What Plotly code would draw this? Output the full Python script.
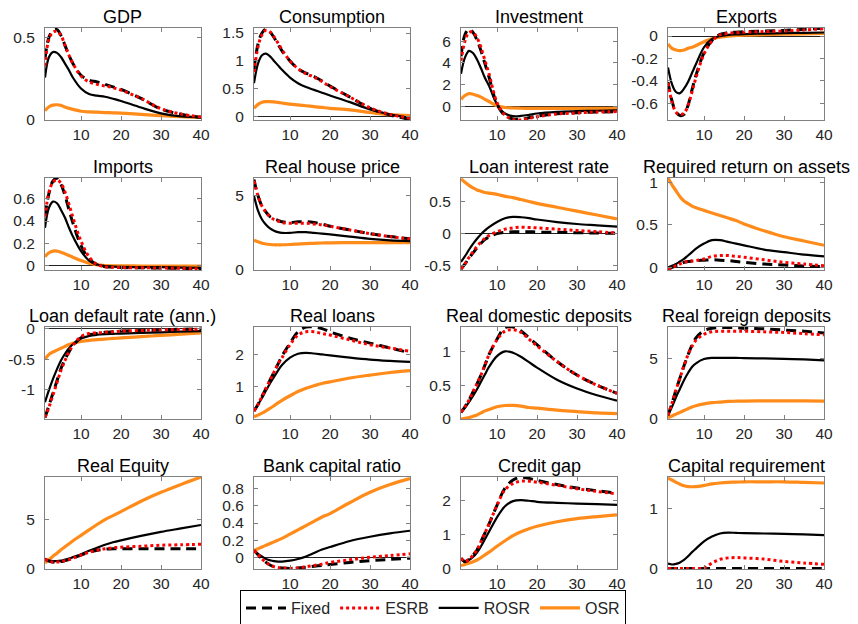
import plotly.graph_objects as go

# ---------------- data ----------------
periods = [1, 2, 3, 4, 5, 6, 7, 8, 10, 12, 14, 16, 18, 20, 25, 30, 35, 40]
series_names = ["Fixed", "ESRB", "ROSR", "OSR"]
titles = ["GDP", "Consumption", "Investment", "Exports",
          "Imports", "Real house price", "Loan interest rate", "Required return on assets",
          "Loan default rate (ann.)", "Real loans", "Real domestic deposits", "Real foreign deposits",
          "Real Equity", "Bank capital ratio", "Credit gap", "Capital requirement"]

gdp_fixed = [0.37, 0.5, 0.54, 0.545, 0.51, 0.45, 0.39, 0.34, 0.27, 0.24, 0.23, 0.215, 0.2, 0.185, 0.13, 0.066, 0.035, 0.016]
gdp_esrb = [0.326, 0.49, 0.53, 0.535, 0.51, 0.45, 0.39, 0.34, 0.265, 0.23, 0.215, 0.205, 0.195, 0.18, 0.13, 0.068, 0.036, 0.018]
gdp_rosr = [0.256, 0.38, 0.41, 0.405, 0.38, 0.34, 0.3, 0.255, 0.19, 0.157, 0.147, 0.14, 0.128, 0.115, 0.075, 0.04, 0.022, 0.016]
gdp_osr = [0.056, 0.08, 0.09, 0.092, 0.088, 0.078, 0.07, 0.064, 0.053, 0.049, 0.047, 0.045, 0.043, 0.041, 0.034, 0.026, 0.02, 0.016]

cons_fixed = [0.85, 1.3, 1.5, 1.57, 1.52, 1.42, 1.3, 1.18, 1.0, 0.86, 0.78, 0.72, 0.64, 0.55, 0.35, 0.15, 0.03, -0.05]
cons_esrb = [0.8, 1.25, 1.47, 1.55, 1.52, 1.43, 1.32, 1.2, 1.0, 0.86, 0.77, 0.71, 0.63, 0.54, 0.35, 0.16, 0.04, -0.03]
cons_rosr = [0.6, 0.95, 1.1, 1.13, 1.08, 1.0, 0.92, 0.84, 0.7, 0.6, 0.53, 0.48, 0.43, 0.38, 0.26, 0.13, 0.04, -0.02]
cons_osr = [0.15, 0.22, 0.26, 0.27, 0.27, 0.265, 0.255, 0.245, 0.225, 0.21, 0.195, 0.18, 0.165, 0.15, 0.12, 0.075, 0.035, 0.02]

inv_fixed = [4.6, 6.6, 7.1, 6.8, 6.1, 5.1, 3.9, 2.7, 0.2, -0.85, -1.15, -1.2, -1.05, -0.9, -0.68, -0.58, -0.52, -0.48]
inv_esrb = [4.2, 6.0, 6.8, 6.8, 6.3, 5.4, 4.2, 3.0, 0.35, -0.8, -1.2, -1.25, -1.1, -0.95, -0.7, -0.6, -0.52, -0.48]
inv_rosr = [3.0, 4.5, 5.1, 4.9, 4.3, 3.5, 2.6, 1.9, 0.2, -0.65, -0.9, -0.88, -0.78, -0.65, -0.5, -0.44, -0.4, -0.37]
inv_osr = [0.65, 1.0, 1.17, 1.12, 1.0, 0.85, 0.65, 0.45, 0.05, -0.1, -0.15, -0.17, -0.18, -0.18, -0.18, -0.18, -0.18, -0.18]

exp_fixed = [-0.41, -0.58, -0.68, -0.71, -0.7, -0.62, -0.48, -0.35, -0.15, -0.04, 0.015, 0.03, 0.035, 0.04, 0.045, 0.05, 0.06, 0.07]
exp_esrb = [-0.42, -0.59, -0.68, -0.7, -0.69, -0.62, -0.5, -0.37, -0.16, -0.045, 0.01, 0.025, 0.03, 0.035, 0.04, 0.045, 0.055, 0.065]
exp_rosr = [-0.28, -0.43, -0.5, -0.51, -0.47, -0.41, -0.33, -0.25, -0.1, -0.025, 0.0, 0.01, 0.015, 0.018, 0.022, 0.026, 0.029, 0.032]
exp_osr = [-0.07, -0.11, -0.125, -0.13, -0.125, -0.11, -0.1, -0.085, -0.05, -0.025, -0.01, 0.0, 0.005, 0.008, 0.012, 0.016, 0.02, 0.024]

imp_fixed = [0.45, 0.65, 0.76, 0.785, 0.73, 0.63, 0.5, 0.38, 0.18, 0.06, 0.008, -0.01, -0.015, -0.018, -0.02, -0.022, -0.025, -0.03]
imp_esrb = [0.44, 0.66, 0.75, 0.77, 0.74, 0.66, 0.55, 0.43, 0.22, 0.08, 0.01, -0.01, -0.015, -0.018, -0.02, -0.022, -0.025, -0.03]
imp_rosr = [0.34, 0.52, 0.575, 0.56, 0.5, 0.43, 0.34, 0.26, 0.13, 0.045, 0.01, -0.005, -0.01, -0.012, -0.015, -0.015, -0.018, -0.02]
imp_osr = [0.08, 0.115, 0.13, 0.13, 0.12, 0.105, 0.09, 0.075, 0.045, 0.02, 0.006, 0.0, -0.002, -0.003, -0.004, -0.005, -0.005, -0.005]

house_fixed = [6.1, 5.0, 4.3, 3.9, 3.6, 3.45, 3.35, 3.25, 3.2, 3.25, 3.25, 3.2, 3.1, 2.95, 2.7, 2.45, 2.25, 2.1]
house_esrb = [6.0, 5.0, 4.3, 3.9, 3.6, 3.4, 3.3, 3.2, 3.15, 3.15, 3.15, 3.1, 3.05, 2.95, 2.7, 2.45, 2.25, 2.1]
house_rosr = [5.0, 4.0, 3.4, 3.05, 2.8, 2.65, 2.55, 2.5, 2.5, 2.55, 2.55, 2.5, 2.45, 2.4, 2.25, 2.1, 2.0, 1.95]
house_osr = [2.0, 1.9, 1.8, 1.75, 1.72, 1.7, 1.7, 1.7, 1.72, 1.75, 1.78, 1.8, 1.82, 1.83, 1.85, 1.85, 1.85, 1.85]

lrate_fixed = [-0.55, -0.47, -0.38, -0.3, -0.22, -0.15, -0.09, -0.05, 0.0, 0.02, 0.03, 0.03, 0.03, 0.025, 0.02, 0.015, 0.01, 0.005]
lrate_esrb = [-0.55, -0.47, -0.37, -0.28, -0.2, -0.13, -0.07, -0.03, 0.03, 0.07, 0.09, 0.1, 0.095, 0.09, 0.07, 0.05, 0.03, 0.01]
lrate_rosr = [-0.44, -0.35, -0.25, -0.16, -0.08, -0.01, 0.05, 0.1, 0.18, 0.24, 0.26, 0.255, 0.24, 0.22, 0.18, 0.15, 0.13, 0.11]
lrate_osr = [0.85, 0.8, 0.75, 0.71, 0.68, 0.66, 0.64, 0.63, 0.61, 0.58, 0.56, 0.53, 0.5, 0.47, 0.41, 0.35, 0.29, 0.23]

rroa_fixed = [-0.02, 0.0, 0.02, 0.04, 0.06, 0.07, 0.075, 0.08, 0.085, 0.09, 0.085, 0.08, 0.07, 0.06, 0.04, 0.03, 0.015, 0.01]
rroa_esrb = [-0.02, 0.0, 0.02, 0.04, 0.06, 0.07, 0.075, 0.08, 0.1, 0.13, 0.14, 0.14, 0.13, 0.12, 0.09, 0.06, 0.04, 0.02]
rroa_rosr = [0.0, 0.02, 0.04, 0.07, 0.1, 0.14, 0.18, 0.22, 0.28, 0.32, 0.32, 0.3, 0.28, 0.26, 0.21, 0.18, 0.15, 0.13]
rroa_osr = [1.05, 0.97, 0.9, 0.83, 0.78, 0.75, 0.72, 0.7, 0.67, 0.64, 0.61, 0.58, 0.55, 0.51, 0.43, 0.36, 0.31, 0.26]

ldef_fixed = [-1.45, -1.25, -1.05, -0.85, -0.65, -0.5, -0.38, -0.28, -0.15, -0.1, -0.08, -0.06, -0.05, -0.04, -0.03, -0.02, -0.01, -0.005]
ldef_esrb = [-1.45, -1.28, -1.08, -0.88, -0.68, -0.52, -0.38, -0.27, -0.13, -0.08, -0.07, -0.06, -0.05, -0.04, -0.03, -0.02, -0.015, -0.01]
ldef_rosr = [-1.2, -1.0, -0.82, -0.66, -0.52, -0.41, -0.32, -0.25, -0.16, -0.12, -0.1, -0.09, -0.085, -0.08, -0.07, -0.06, -0.05, -0.04]
ldef_osr = [-0.5, -0.42, -0.38, -0.35, -0.32, -0.29, -0.26, -0.24, -0.21, -0.19, -0.18, -0.17, -0.16, -0.15, -0.13, -0.11, -0.09, -0.07]

loans_fixed = [0.25, 0.45, 0.7, 0.95, 1.2, 1.45, 1.7, 1.95, 2.35, 2.7, 2.85, 2.85, 2.8, 2.7, 2.5, 2.35, 2.2, 2.05]
loans_esrb = [0.25, 0.45, 0.7, 0.95, 1.2, 1.45, 1.7, 1.9, 2.3, 2.6, 2.7, 2.7, 2.65, 2.6, 2.45, 2.3, 2.2, 2.1]
loans_rosr = [0.25, 0.45, 0.65, 0.88, 1.1, 1.3, 1.5, 1.67, 1.9, 2.02, 2.05, 2.03, 2.0, 1.97, 1.9, 1.84, 1.8, 1.77]
loans_osr = [0.07, 0.12, 0.18, 0.25, 0.33, 0.41, 0.5, 0.58, 0.72, 0.85, 0.95, 1.03, 1.1, 1.15, 1.27, 1.36, 1.44, 1.5]

ddep_fixed = [0.1, 0.18, 0.28, 0.4, 0.52, 0.65, 0.8, 0.95, 1.18, 1.35, 1.36, 1.3, 1.2, 1.1, 0.85, 0.65, 0.5, 0.38]
ddep_esrb = [0.1, 0.18, 0.28, 0.4, 0.52, 0.65, 0.8, 0.95, 1.17, 1.3, 1.32, 1.28, 1.18, 1.08, 0.85, 0.65, 0.5, 0.38]
ddep_rosr = [0.1, 0.17, 0.25, 0.34, 0.44, 0.55, 0.66, 0.77, 0.93, 1.0, 0.98, 0.92, 0.84, 0.76, 0.58, 0.45, 0.35, 0.27]
ddep_osr = [0.0, 0.01, 0.02, 0.04, 0.06, 0.09, 0.12, 0.14, 0.18, 0.2, 0.2, 0.19, 0.17, 0.16, 0.13, 0.11, 0.09, 0.08]

fdep_fixed = [0.3, 1.3, 2.4, 3.4, 4.4, 5.3, 6.1, 6.7, 7.3, 7.5, 7.55, 7.55, 7.55, 7.5, 7.45, 7.35, 7.25, 7.1]
fdep_esrb = [0.3, 1.3, 2.4, 3.4, 4.4, 5.3, 6.0, 6.5, 7.0, 7.2, 7.25, 7.25, 7.25, 7.25, 7.2, 7.15, 7.05, 6.95]
fdep_rosr = [0.3, 1.0, 1.8, 2.5, 3.2, 3.8, 4.3, 4.6, 4.95, 5.05, 5.05, 5.05, 5.05, 5.03, 5.0, 4.97, 4.92, 4.85]
fdep_osr = [0.1, 0.25, 0.4, 0.55, 0.7, 0.85, 1.0, 1.1, 1.25, 1.35, 1.4, 1.45, 1.47, 1.48, 1.5, 1.5, 1.5, 1.48]

eq_fixed = [1.0, 0.8, 0.7, 0.7, 0.75, 0.85, 0.95, 1.1, 1.4, 1.7, 1.9, 2.0, 2.05, 2.05, 2.05, 2.05, 2.05, 2.05]
eq_esrb = [1.0, 0.8, 0.7, 0.7, 0.75, 0.85, 0.95, 1.1, 1.4, 1.7, 1.9, 2.05, 2.15, 2.2, 2.3, 2.4, 2.45, 2.5]
eq_rosr = [1.0, 0.85, 0.8, 0.8, 0.85, 0.95, 1.05, 1.2, 1.5, 1.85, 2.15, 2.45, 2.7, 2.9, 3.35, 3.75, 4.1, 4.45]
eq_osr = [0.6, 0.95, 1.3, 1.6, 1.95, 2.25, 2.55, 2.85, 3.4, 3.95, 4.5, 5.0, 5.4, 5.8, 6.85, 7.75, 8.55, 9.3]

bcr_fixed = [0.08, 0.03, -0.02, -0.06, -0.09, -0.11, -0.12, -0.125, -0.13, -0.125, -0.115, -0.105, -0.095, -0.085, -0.06, -0.04, -0.025, -0.01]
bcr_esrb = [0.08, 0.03, -0.02, -0.06, -0.09, -0.11, -0.12, -0.125, -0.13, -0.125, -0.11, -0.095, -0.08, -0.06, -0.03, 0.0, 0.02, 0.04]
bcr_rosr = [0.08, 0.04, 0.01, -0.02, -0.035, -0.045, -0.05, -0.05, -0.04, -0.02, 0.01, 0.05, 0.09, 0.12, 0.19, 0.24, 0.28, 0.31]
bcr_osr = [0.08, 0.1, 0.12, 0.14, 0.16, 0.18, 0.2, 0.22, 0.27, 0.32, 0.37, 0.42, 0.47, 0.51, 0.64, 0.76, 0.85, 0.92]

cgap_fixed = [0.31, 0.22, 0.28, 0.4, 0.55, 0.8, 1.05, 1.3, 1.85, 2.35, 2.58, 2.66, 2.63, 2.57, 2.45, 2.35, 2.27, 2.2]
cgap_esrb = [0.31, 0.22, 0.28, 0.4, 0.55, 0.8, 1.05, 1.3, 1.85, 2.3, 2.48, 2.55, 2.55, 2.52, 2.43, 2.33, 2.25, 2.18]
cgap_rosr = [0.29, 0.2, 0.26, 0.35, 0.48, 0.66, 0.87, 1.08, 1.5, 1.82, 1.97, 2.0, 1.98, 1.95, 1.92, 1.9, 1.88, 1.86]
cgap_osr = [0.1, 0.13, 0.17, 0.21, 0.26, 0.33, 0.41, 0.49, 0.66, 0.82, 0.97, 1.08, 1.17, 1.24, 1.37, 1.46, 1.52, 1.57]

creq_fixed = [0.0] * 18
creq_esrb = [0, 0, 0, 0, 0, 0, 0, 0, 0.005, 0.09, 0.15, 0.175, 0.18, 0.175, 0.155, 0.115, 0.09, 0.067]
creq_rosr = [0.08, 0.065, 0.075, 0.1, 0.14, 0.2, 0.27, 0.33, 0.45, 0.53, 0.58, 0.595, 0.59, 0.585, 0.58, 0.575, 0.565, 0.555]
creq_osr = [1.5, 1.47, 1.43, 1.4, 1.375, 1.36, 1.358, 1.36, 1.38, 1.405, 1.42, 1.43, 1.435, 1.44, 1.44, 1.44, 1.43, 1.42]

panel_data = [
    (gdp_fixed, gdp_esrb, gdp_rosr, gdp_osr),
    (cons_fixed, cons_esrb, cons_rosr, cons_osr),
    (inv_fixed, inv_esrb, inv_rosr, inv_osr),
    (exp_fixed, exp_esrb, exp_rosr, exp_osr),
    (imp_fixed, imp_esrb, imp_rosr, imp_osr),
    (house_fixed, house_esrb, house_rosr, house_osr),
    (lrate_fixed, lrate_esrb, lrate_rosr, lrate_osr),
    (rroa_fixed, rroa_esrb, rroa_rosr, rroa_osr),
    (ldef_fixed, ldef_esrb, ldef_rosr, ldef_osr),
    (loans_fixed, loans_esrb, loans_rosr, loans_osr),
    (ddep_fixed, ddep_esrb, ddep_rosr, ddep_osr),
    (fdep_fixed, fdep_esrb, fdep_rosr, fdep_osr),
    (eq_fixed, eq_esrb, eq_rosr, eq_osr),
    (bcr_fixed, bcr_esrb, bcr_rosr, bcr_osr),
    (cgap_fixed, cgap_esrb, cgap_rosr, cgap_osr),
    (creq_fixed, creq_esrb, creq_rosr, creq_osr),
]

y_ranges = [[0, 0.555], [-0.06, 1.59], [-1.25, 7.2], [-0.75, 0.072],
            [-0.04, 0.787], [0, 6.2], [-0.565, 0.865], [-0.03, 1.05],
            [-1.475, 0.027], [0, 2.85], [0, 1.36], [0, 7.6],
            [0, 9.3], [-0.137, 0.9375], [0, 2.67], [-0.01, 1.52]]
y_ticks = [[0, 0.5], [0, 0.5, 1, 1.5], [0, 2, 4, 6], [-0.6, -0.4, -0.2, 0],
           [0, 0.2, 0.4, 0.6], [0, 5], [-0.5, 0, 0.5], [0, 0.5, 1],
           [-1, -0.5, 0], [0, 1, 2], [0, 0.5, 1], [0, 5],
           [0, 5], [0, 0.2, 0.4, 0.6, 0.8], [0, 1, 2], [0, 1]]
x_ticks = [10, 20, 30, 40]

# ---------------- styling ----------------
# the page body has an 8px margin, so the figure is drawn 8px in from the window
OFF = 8
W, H = 858 - OFF, 624 - OFF
col_left = [45 - OFF, 254 - OFF, 461 - OFF, 668 - OFF]
row_top = [28 - OFF, 178 - OFF, 327 - OFF, 477 - OFF]
pw, ph = 156, 92

styles = {
    "Fixed": dict(color="black", width=3, dash="10px,6px"),
    "ESRB": dict(color="#ff0000", width=3, dash="dot"),
    "ROSR": dict(color="black", width=2.2, dash="solid"),
    "OSR": dict(color="#ff8c1a", width=3.2, dash="solid"),
}
draw_order = [3, 2, 0, 1]  # OSR, ROSR, Fixed, ESRB (bottom to top)
legend_rank = {"Fixed": 1, "ESRB": 2, "ROSR": 3, "OSR": 4}

fig = go.Figure()
font_family = "Liberation Sans, Arial, Helvetica, sans-serif"
annotations = []

for i in range(16):
    r, c = divmod(i, 4)
    ax = "" if i == 0 else str(i + 1)
    xd = [col_left[c] / W, (col_left[c] + pw) / W]
    yd = [1 - (row_top[r] + ph) / H, 1 - row_top[r] / H]
    for k in draw_order:
        name = series_names[k]
        fig.add_trace(go.Scatter(
            x=periods, y=panel_data[i][k], mode="lines", name=name,
            line=dict(shape="spline", smoothing=1.0, **styles[name]),
            xaxis="x" + ax, yaxis="y" + ax,
            showlegend=(i == 0), legendrank=legend_rank[name],
            hoverinfo="skip",
        ))
    lo, hi = y_ranges[i]
    zero_inside = lo < 0 < hi
    fig.layout["xaxis" + ax] = dict(
        domain=xd, range=[1, 40], tickvals=x_ticks, ticktext=[str(t) for t in x_ticks],
        ticks="inside", ticklen=4, tickcolor="#808080", showline=True, linecolor="#808080",
        linewidth=1, mirror="ticks", showgrid=False, zeroline=False, anchor="y" + ax,
        automargin=False,
        tickfont=dict(size=15.5, color="#262626", family=font_family),
    )
    fig.layout["yaxis" + ax] = dict(
        domain=yd, range=y_ranges[i], tickvals=y_ticks[i],
        ticktext=[f"{t:g}" for t in y_ticks[i]],
        ticks="inside", ticklen=4, tickcolor="#808080", showline=True, linecolor="#808080",
        linewidth=1, mirror="ticks", showgrid=False,
        zeroline=zero_inside, zerolinecolor="#222222", zerolinewidth=1,
        anchor="x" + ax, ticklabelstandoff=6, automargin=False,
        tickfont=dict(size=15.5, color="#262626", family=font_family),
    )
    annotations.append(dict(
        text=titles[i], x=(xd[0] + xd[1]) / 2, y=yd[1], xref="paper", yref="paper",
        xanchor="center", yanchor="bottom", showarrow=False, yshift=-1,
        font=dict(size=18, color="black", family=font_family),
    ))

fig.update_layout(
    width=W, height=H, margin=dict(l=0, r=0, t=0, b=0, autoexpand=False),
    paper_bgcolor="white", plot_bgcolor="white",
    annotations=annotations,
    showlegend=True,
    legend=dict(orientation="h", x=(433 - OFF) / W, xanchor="center",
                y=1 - (608 - OFF) / H, yanchor="middle",
                bordercolor="black", borderwidth=1, bgcolor="white", itemwidth=40,
                font=dict(size=16, color="#262626", family=font_family),
                traceorder="normal"),
    font=dict(family=font_family),
)

fig.write_html("out.html")
